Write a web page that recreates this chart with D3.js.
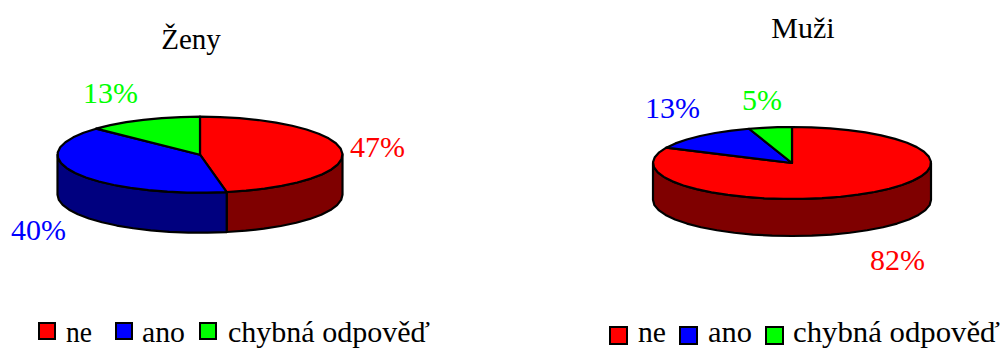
<!DOCTYPE html>
<html lang="cs">
<head>
<meta charset="utf-8">
<script src="https://cdn.jsdelivr.net/npm/d3@7/dist/d3.min.js"></script>
<style>
html,body{margin:0;padding:0;background:#fff}
svg{display:block}
text{font-family:"Liberation Serif","Times New Roman",serif}
</style>
</head>
<body>
<svg id="chart" width="1002" height="349"></svg>
<script>
const categories = ["ne", "ano", "chybná odpověď"];
const zenyValues = [47, 40, 13];
const muziValues = [82, 13, 5];
const topColors = ["#ff0000", "#0000ff", "#00ff00"];
const sideColors = ["#7f0000", "#00007f", "#007f00"];

const svg = d3.select("#chart");
const pie = d3.pie().sort(null).value(d => d);
const line = d3.line();
const STEP = Math.PI / 22; // outline is faceted, as in a drawn 3D pie

function arcAngles(a0, a1) {
  const n = Math.max(1, Math.ceil((a1 - a0) / STEP));
  return d3.range(n + 1).map(i => a0 + (a1 - a0) * i / n);
}

function drawPie(cfg) {
  const g = svg.append("g");
  const x = d3.scaleLinear().domain([-1, 1]).range([cfg.cx - cfg.rx, cfg.cx + cfg.rx]);
  const y = d3.scaleLinear().domain([-1, 1]).range([cfg.cy - cfg.ry, cfg.cy + cfg.ry]);
  const rim = a => [x(Math.sin(a)), y(-Math.cos(a))];
  const slices = pie(cfg.values);

  // front wall: only the part of each slice between 90° and 270° is visible
  slices.forEach((s, i) => {
    const a0 = Math.max(s.startAngle, Math.PI / 2);
    const a1 = Math.min(s.endAngle, 3 * Math.PI / 2);
    if (a1 <= a0) return;
    const upper = arcAngles(a0, a1).map(rim);
    const lower = upper.slice().reverse().map(p => [p[0], p[1] + cfg.depth]);
    g.append("path")
      .attr("d", line(upper.concat(lower)) + "Z")
      .attr("fill", sideColors[i])
      .attr("stroke", "#000").attr("stroke-width", 2.2).attr("stroke-linejoin", "round");
  });

  // top face
  slices.forEach((s, i) => {
    const pts = [[x(0), y(0)]].concat(arcAngles(s.startAngle, s.endAngle).map(rim));
    g.append("path")
      .attr("d", line(pts) + "Z")
      .attr("fill", topColors[i])
      .attr("stroke", "#000").attr("stroke-width", 2.2).attr("stroke-linejoin", "round");
  });

  // percentage labels
  cfg.values.forEach((v, i) => {
    g.append("text")
      .attr("x", cfg.labels[i][0]).attr("y", cfg.labels[i][1])
      .attr("font-size", 30).attr("fill", topColors[i])
      .text(v + "%");
  });

  // title
  g.append("text")
    .attr("x", cfg.title[0]).attr("y", cfg.title[1])
    .attr("text-anchor", "middle").attr("font-size", cfg.titleSize).attr("fill", "#000")
    .text(cfg.name);

  // legend
  categories.forEach((c, i) => {
    const [sx, tx, tw] = cfg.legend[i];
    g.append("rect")
      .attr("x", sx).attr("y", cfg.legendY)
      .attr("width", cfg.swatch).attr("height", cfg.swatch)
      .attr("fill", topColors[i]).attr("stroke", "#000").attr("stroke-width", 2);
    g.append("text")
      .attr("x", tx).attr("y", cfg.legendBase)
      .attr("font-size", 30).attr("fill", "#000")
      .attr("textLength", tw).attr("lengthAdjust", "spacingAndGlyphs")
      .text(c);
  });
}

drawPie({
  name: "Ženy", values: zenyValues,
  cx: 200, cy: 154.7, rx: 142.5, ry: 38, depth: 40,
  title: [191, 49], titleSize: 29,
  labels: [[350, 157], [11, 240], [83, 103]],
  legend: [[39, 66, 26], [116, 142, 43], [200, 228, 202]],
  legendY: 323, swatch: 16, legendBase: 342
});

drawPie({
  name: "Muži", values: muziValues,
  cx: 792, cy: 163, rx: 139, ry: 36, depth: 37,
  title: [803, 38], titleSize: 30,
  labels: [[870, 270], [645, 118], [742, 110]],
  legend: [[610, 638, 28], [680, 708, 44], [766, 793, 207]],
  legendY: 327, swatch: 17, legendBase: 342.4
});
</script>
</body>
</html>
